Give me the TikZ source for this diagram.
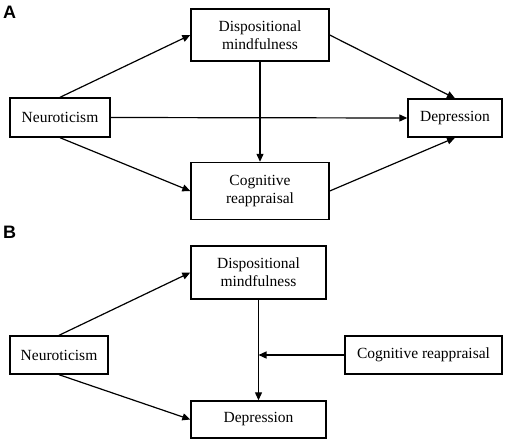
\documentclass[tikz,border=0pt]{standalone}
\usepackage{fontspec}
\setmainfont{Liberation Serif}
\newfontfamily\panelfont{Liberation Sans}
\usepackage{tikz}
\usetikzlibrary{arrows.meta}
\usetikzlibrary{positioning}
\tikzstyle{varbox}=[draw=black, line width=1.4pt, rectangle, align=center,
    inner sep=0pt, font=\fontsize{15.5}{18}\selectfont]
\tikzstyle{path_arrow}=[line width=1.2pt, -{Triangle[length=8pt,width=7pt]}]
\tikzstyle{panel_label}=[anchor=base west, inner sep=0pt,
    font=\panelfont\bfseries\fontsize{18}{18}\selectfont]

\begin{document}
\begin{tikzpicture}[x=1pt, y=-1pt]
          \useasboundingbox (0,0) rectangle (505,442);
          % panel A
          \node[panel_label] (labA) at (3,18){A};
          \node[varbox, minimum width=138pt, minimum height=52pt] (dmA) at (260,35){Dispositional\\mindfulness};
          \node[varbox, minimum width=100pt, minimum height=39pt] (neuA) at (60,117.5){Neuroticism};
          \node[varbox, minimum width=94pt, minimum height=38pt] (depA) at (455,118){Depression};
          \node[varbox, minimum width=138pt, minimum height=57pt] (crA) at (260,191){Cognitive\\reappraisal};
          \draw[path_arrow](neuA.north) -- (dmA.west);
          \draw[path_arrow](neuA.south) -- (crA.west);
          \draw[path_arrow](neuA.east) -- (depA.west);
          \draw[path_arrow](dmA.south) -- (crA.north);
          \draw[path_arrow](dmA.east) -- (depA.north);
          \draw[path_arrow](crA.east) -- (depA.south);
          % panel B
          \node[panel_label] (labB) at (3,238){B};
          \node[varbox, minimum width=135pt, minimum height=53pt] (dmB) at (258.5,272.5){Dispositional\\mindfulness};
          \node[varbox, minimum width=98pt, minimum height=38pt] (neuB) at (59,355){Neuroticism};
          \node[varbox, minimum width=157pt, minimum height=38pt] (crB) at (423.5,355){Cognitive reappraisal};
          \node[varbox, minimum width=135pt, minimum height=37pt] (depB) at (258.5,419.5){Depression};
          \coordinate (modB) at (dmB.south |- crB.west);
          \draw[path_arrow](neuB.north) -- (dmB.west);
          \draw[path_arrow](neuB.south) -- (depB.west);
          \draw[path_arrow](dmB.south) -- (depB.north);
          \draw[path_arrow](crB.west) -- (modB);
        \end{tikzpicture}
\end{document}
